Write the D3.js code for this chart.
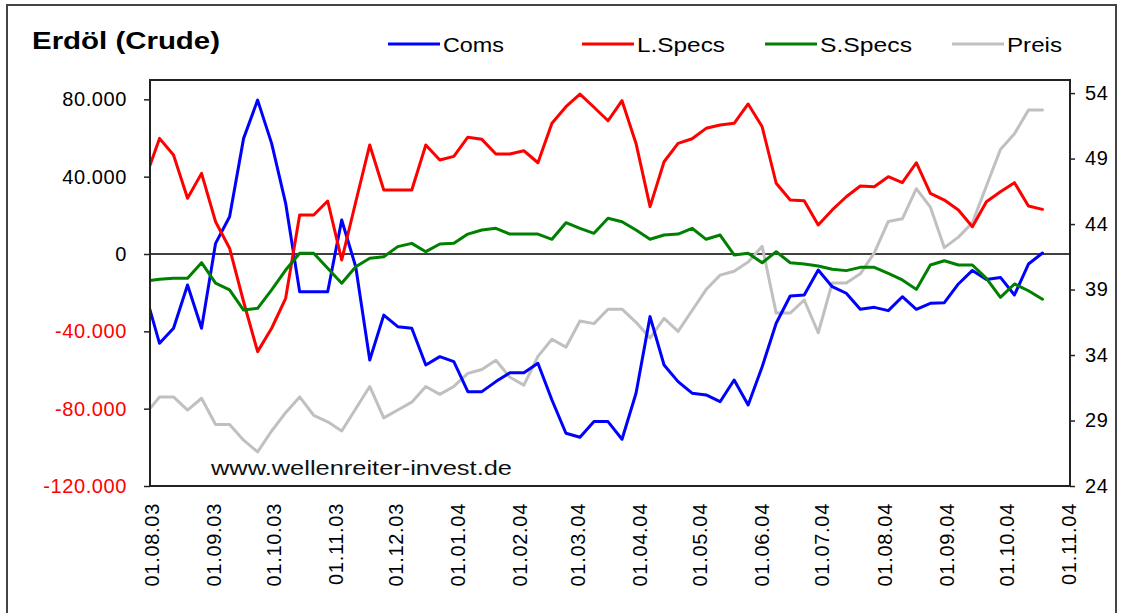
<!DOCTYPE html>
<html><head><meta charset="utf-8">
<script src="https://cdn.jsdelivr.net/npm/d3@7"></script>
<style>body{margin:0;background:#fff;overflow:hidden}</style>
</head><body><svg id="c" width="1121" height="613"></svg>
<script>
// ---- data (weekly COT reports, Tuesdays) ----
const dates = [
"2003-07-29","2003-08-05","2003-08-12","2003-08-19","2003-08-26","2003-09-02","2003-09-09","2003-09-16","2003-09-23","2003-09-30",
"2003-10-07","2003-10-14","2003-10-21","2003-10-28","2003-11-04","2003-11-11","2003-11-18","2003-11-25","2003-12-02","2003-12-09",
"2003-12-16","2003-12-23","2003-12-30","2004-01-06","2004-01-13","2004-01-20","2004-01-27","2004-02-03","2004-02-10","2004-02-17",
"2004-02-24","2004-03-02","2004-03-09","2004-03-16","2004-03-23","2004-03-30","2004-04-06","2004-04-13","2004-04-20","2004-04-27",
"2004-05-04","2004-05-11","2004-05-18","2004-05-25","2004-06-01","2004-06-08","2004-06-15","2004-06-22","2004-06-29","2004-07-06",
"2004-07-13","2004-07-20","2004-07-27","2004-08-03","2004-08-10","2004-08-17","2004-08-24","2004-08-31","2004-09-07","2004-09-14",
"2004-09-21","2004-09-28","2004-10-05","2004-10-12","2004-10-19"];
const coms = [
-20700,-46200,-38400,-16000,-38400,5500,19300,59800,79600,57200,
26200,-19500,-19500,-19500,17600,-6600,-54800,-31600,-37600,-38400,
-57400,-53100,-55700,-71200,-71200,-66000,-61400,-61400,-56500,-75500,
-92700,-94800,-86700,-86700,-95800,-72000,-32400,-57400,-66000,-72000,
-72900,-76400,-65200,-78100,-58300,-35800,-21700,-21200,-8300,-16900,
-20300,-28600,-27600,-29300,-22100,-28600,-25500,-25200,-15500,-8500,
-13200,-12100,-21200,-5200,500];
const lspecs = [
39300,59800,51200,28800,41700,16700,3000,-24700,-50500,-38400,
-22900,20200,20200,27400,-3100,26900,56400,33100,33100,33100,
56400,48600,50500,60400,59300,51700,51700,53400,47200,67600,
76200,82700,75900,68900,79300,57200,24500,47700,57200,59600,
65000,66700,67600,77600,65800,36600,27900,27600,15000,22800,
29600,35200,34800,40000,36900,47200,31400,27900,22800,14100,
27000,32200,36900,24800,23100];
const sspecs = [
-14000,-13100,-12600,-12600,-4500,-15100,-18600,-29000,-28100,-18600,
-8300,400,400,-7400,-15100,-6600,-2200,-1400,3800,5500,
1200,5200,5500,10300,12400,13300,10300,10300,10300,7600,
16200,13300,10700,18500,16700,12400,7600,9800,10300,13300,
7600,9800,-500,400,-4500,1200,-4500,-5200,-6200,-7900,
-8600,-6900,-6900,-10000,-13400,-18300,-5700,-3500,-5700,-5700,
-12600,-22400,-15500,-19000,-23400];
const preis = [
29.5,30.8,30.8,29.8,30.7,28.7,28.7,27.5,26.6,28.2,
29.6,30.8,29.4,28.9,28.2,29.9,31.6,29.2,29.8,30.4,
31.6,31.0,31.6,32.6,32.9,33.6,32.3,31.7,33.9,35.2,
34.6,36.6,36.4,37.5,37.5,36.5,35.3,36.8,35.8,37.4,
39.0,40.1,40.4,41.1,42.3,37.2,37.2,38.2,35.7,39.5,
39.5,40.2,41.8,44.2,44.4,46.7,45.3,42.2,43.0,44.1,
46.9,49.7,50.9,52.7,52.7];

const seriesNames  = ["Coms","L.Specs","S.Specs","Preis"];
const seriesColors = ["#0000ff","#ff0000","#008000","#c0c0c0"];
const monthTicks = ["2003-08-01","2003-09-01","2003-10-01","2003-11-01","2003-12-01","2004-01-01","2004-02-01","2004-03-01",
"2004-04-01","2004-05-01","2004-06-01","2004-07-01","2004-08-01","2004-09-01","2004-10-01","2004-11-01"];
const leftTicks  = [-120000,-80000,-40000,0,40000,80000];
const rightTicks = [24,29,34,39,44,49,54];
const titleText = "Erdöl (Crude)";
const watermark = "www.wellenreiter-invest.de";

// ---- layout ----
const P = {l:150, t:80, r:1070, b:486};
const svg = d3.select("#c");
const FONT = "'Liberation Sans', Arial, sans-serif";
svg.append("rect").attr("width",1121).attr("height",613).attr("fill","#ffffff");
// outer chart border
svg.append("rect").attr("x",7).attr("y",5).attr("width",1109).attr("height",640)
  .attr("fill","none").attr("stroke","#444").attr("stroke-width",2);

const parse = d3.utcParse("%Y-%m-%d");
const x = d3.scaleUtc().domain([parse("2003-08-01"), parse("2004-11-01")]).range([151.5,1068.5]);
const yL = d3.scaleLinear().domain([-120000, 90000]).range([P.b, P.t]);
const yR = d3.scaleLinear().domain([24, 55]).range([P.b, P.t]);

const loc = d3.formatLocale({decimal:",", thousands:".", grouping:[3], currency:["","€"], minus:"-"});
const fmtL = loc.format(",.0f");
const fmtX = d3.utcFormat("%d.%m.%y");

// clip
svg.append("clipPath").attr("id","clip").append("rect")
  .attr("x",P.l).attr("y",P.t).attr("width",P.r-P.l).attr("height",P.b-P.t);

// zero line
svg.append("line").attr("x1",P.l).attr("x2",P.r).attr("y1",yL(0)).attr("y2",yL(0))
  .attr("stroke","#000").attr("stroke-width",1.5);

const rows = dates.map((d,i)=>({date:parse(d), coms:coms[i], ls:lspecs[i], ss:sspecs[i], p:preis[i]}));
const g = svg.append("g").attr("clip-path","url(#clip)");
const mk = (acc, sc) => d3.line().x(d=>x(d.date)).y(d=>sc(acc(d)));
const drawOrder = [
  {f:d=>d.p, s:yR, c:seriesColors[3]},
  {f:d=>d.coms, s:yL, c:seriesColors[0]},
  {f:d=>d.ls, s:yL, c:seriesColors[1]},
  {f:d=>d.ss, s:yL, c:seriesColors[2]},
];
drawOrder.forEach(o=>{
  g.append("path").datum(rows).attr("d", mk(o.f,o.s))
   .attr("fill","none").attr("stroke",o.c).attr("stroke-width",3)
   .attr("stroke-linejoin","round").attr("stroke-linecap","round");
});

// plot frame
svg.append("rect").attr("x",P.l).attr("y",P.t).attr("width",P.r-P.l).attr("height",P.b-P.t)
  .attr("fill","none").attr("stroke","#222").attr("stroke-width",2);

// left axis
const axL = svg.append("g").attr("transform",`translate(${P.l},0)`)
  .call(d3.axisLeft(yL).tickValues(leftTicks).tickSize(6).tickPadding(17).tickFormat(fmtL));
axL.select(".domain").remove();
axL.selectAll("line").attr("stroke","#222").attr("stroke-width",1.5);
axL.selectAll("text").attr("font-family",FONT).attr("font-size",20).attr("letter-spacing",0.6)
  .attr("fill",d=>d<0?"#ff0000":"#000");

// right axis
const axR = svg.append("g").attr("transform",`translate(${P.r},0)`)
  .call(d3.axisRight(yR).tickValues(rightTicks).tickSize(5).tickPadding(10).tickFormat(d3.format("d")));
axR.select(".domain").remove();
axR.selectAll("line").attr("stroke","#222").attr("stroke-width",1.5);
axR.selectAll("text").attr("font-family",FONT).attr("font-size",20).attr("letter-spacing",0.6).attr("fill","#000");

// x labels
svg.append("g").selectAll("text").data(monthTicks).join("text")
  .attr("transform",d=>`translate(${x(parse(d))},503) rotate(-90)`)
  .attr("text-anchor","end").attr("dy","0.36em")
  .attr("font-family",FONT).attr("font-size",20).attr("letter-spacing",0.7).attr("fill","#000")
  .text(d=>fmtX(parse(d)));

// title
svg.append("text").attr("x",32).attr("y",49).attr("font-family",FONT).attr("font-weight","bold")
  .attr("font-size",24).attr("textLength",188).attr("lengthAdjust","spacingAndGlyphs").attr("fill","#000").text(titleText);

// legend
const legX = [388,582,765,952];
const legW = [61,88,92,55];
const lg = svg.append("g");
seriesNames.forEach((n,i)=>{
  lg.append("line").attr("x1",legX[i]).attr("x2",legX[i]+52).attr("y1",44).attr("y2",44)
    .attr("stroke",seriesColors[i]).attr("stroke-width",3);
  lg.append("text").attr("x",legX[i]+55).attr("y",52).attr("font-family",FONT).attr("font-size",21)
    .attr("textLength",legW[i]).attr("lengthAdjust","spacingAndGlyphs").attr("fill","#000").text(n);
});

// watermark
svg.append("text").attr("x",211).attr("y",475).attr("font-family",FONT).attr("font-size",21)
  .attr("textLength",301).attr("lengthAdjust","spacingAndGlyphs").attr("fill","#111").text(watermark);
</script>
</body></html>
